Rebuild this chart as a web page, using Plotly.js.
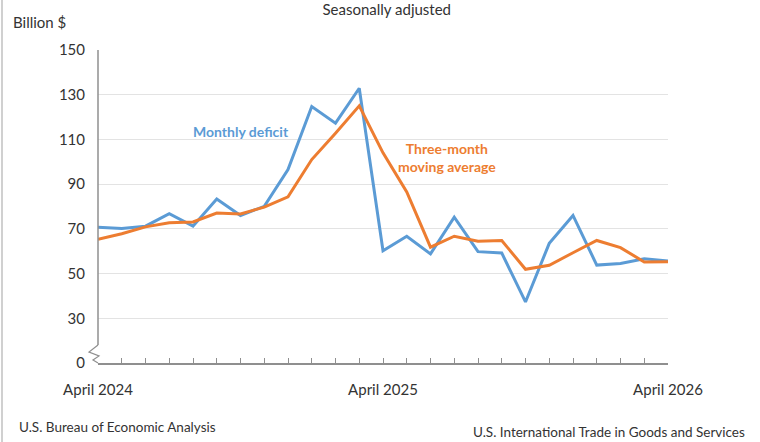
<!DOCTYPE html>
<html>
<head>
<meta charset="utf-8">
<script src="https://cdn.plot.ly/plotly-3.0.1.min.js"></script>
<style>
html,body{margin:0;padding:0;background:#fff;}
#chart{width:760px;height:442px;}
</style>
</head>
<body>
<div id="chart"></div>
<script>
// Months: April 2024 .. April 2026 (25 months)
const monthIndex = [0,1,2,3,4,5,6,7,8,9,10,11,12,13,14,15,16,17,18,19,20,21,22,23,24];
const monthlyDeficit = [70.7,70.2,71.2,76.8,71.2,83.4,76.0,80.1,96.5,124.7,117.3,132.9,60.2,66.7,58.8,75.2,59.8,59.2,37.3,63.5,76.0,53.8,54.5,56.6,55.6];
const movingAverage = [65.3,67.8,70.9,72.7,73.1,77.1,76.7,79.7,84.3,101.0,112.8,125.0,104.0,86.5,61.8,66.7,64.5,64.8,51.9,53.7,59.3,64.8,61.6,55.2,55.3];
const xTickLabels = ["April 2024","","","","","","","","","","","","April 2025","","","","","","","","","","","","April 2026"];
const yTickVals = [10,30,50,70,90,110,130,150];
const yTickText = ["0","30","50","70","90","110","130","150"];

const FONT = "Lato, 'Liberation Sans', sans-serif";
const BLUE = "#5B9BD5";
const ORANGE = "#ED7D31";
const AXIS = "#8f8f8f";

// plot area in pixels: x 98..668, y 50..363
const L = 98, R = 668, T = 50, B = 363;
const px = v => (v - L) / (R - L);
const py = v => (B - v) / (B - T);

const traces = [
  {x: monthIndex, y: monthlyDeficit, type: 'scatter', mode: 'lines',
   line: {color: BLUE, width: 3}, name: 'Monthly deficit', hoverinfo: 'skip'},
  {x: monthIndex, y: movingAverage, type: 'scatter', mode: 'lines',
   line: {color: ORANGE, width: 3}, name: 'Three-month moving average', hoverinfo: 'skip'}
];

const layout = {
  width: 760, height: 442,
  margin: {l: L, r: 760 - R, t: T, b: 442 - B, pad: 0},
  paper_bgcolor: '#fff', plot_bgcolor: '#fff',
  showlegend: false,
  font: {family: FONT, color: '#333', size: 15},
  title: {text: 'Seasonally adjusted', x: 385/760, xref: 'paper', y: 1 - 10/442, yref: 'container',
          xanchor: 'center', yanchor: 'middle', font: {family: FONT, size: 15, color: '#333'}},
  xaxis: {
    range: [0, 24], tickvals: monthIndex, ticktext: xTickLabels,
    ticks: 'inside', ticklen: 5, tickcolor: AXIS, tickwidth: 1,
    showline: true, linecolor: AXIS, linewidth: 1.5,
    showgrid: false, zeroline: false, fixedrange: true,
    tickfont: {family: FONT, size: 15, color: '#333'},
    ticklabelstandoff: 12
  },
  yaxis: {
    range: [10, 150], tickvals: yTickVals, ticktext: yTickText,
    ticks: '', showline: false, zeroline: false,
    showgrid: true, gridcolor: '#e3e3e3', gridwidth: 1,
    tickfont: {family: FONT, size: 15, color: '#333'},
    ticklabelstandoff: 12, fixedrange: true
  },
  shapes: [
    {type: 'line', xref: 'paper', yref: 'paper', x0: 0, x1: 0, y0: py(345), y1: 1,
     line: {color: AXIS, width: 1.5}},
    {type: 'path', xref: 'paper', yref: 'paper',
     path: `M ${px(98)},${py(345)} L ${px(89)},${py(352)} L ${px(99)},${py(356)} L ${px(93)},${py(360)} L ${px(98)},${py(363)}`,
     line: {color: AXIS, width: 1.2}},
    {type: 'line', xref: 'paper', yref: 'paper', x0: px(2), x1: px(2), y0: py(442), y1: py(0),
     line: {color: '#d0d0d0', width: 2}}
  ],
  annotations: [
    {text: 'Billion $', xref: 'paper', yref: 'paper', x: px(11), y: py(22), xanchor: 'left', yanchor: 'middle',
     showarrow: false, font: {family: FONT, size: 15, color: '#333'}},
    {text: '<b>Monthly deficit</b>', xref: 'paper', yref: 'paper', x: px(241), y: py(131),
     xanchor: 'center', yanchor: 'middle', showarrow: false, font: {family: FONT, size: 14, color: BLUE}},
    {text: '<b>Three-month<br>moving average</b>', xref: 'paper', yref: 'paper', x: px(447), y: py(157),
     xanchor: 'center', yanchor: 'middle', showarrow: false, align: 'center',
     font: {family: FONT, size: 14, color: ORANGE}},
    {text: 'U.S. Bureau of Economic Analysis', xref: 'paper', yref: 'paper', x: px(17), y: py(427),
     xanchor: 'left', yanchor: 'middle', showarrow: false, font: {family: FONT, size: 13.5, color: '#333'}},
    {text: 'U.S. Census Bureau', xref: 'paper', yref: 'paper', x: px(17), y: py(447),
     xanchor: 'left', yanchor: 'middle', showarrow: false, font: {family: FONT, size: 13.5, color: '#333'}},
    {text: 'U.S. International Trade in Goods and Services', xref: 'paper', yref: 'paper', x: px(747), y: py(432),
     xanchor: 'right', yanchor: 'middle', showarrow: false, font: {family: FONT, size: 13.5, color: '#333'}}
  ]
};

Plotly.newPlot('chart', traces, layout, {staticPlot: true, displayModeBar: false});
</script>
</body>
</html>
